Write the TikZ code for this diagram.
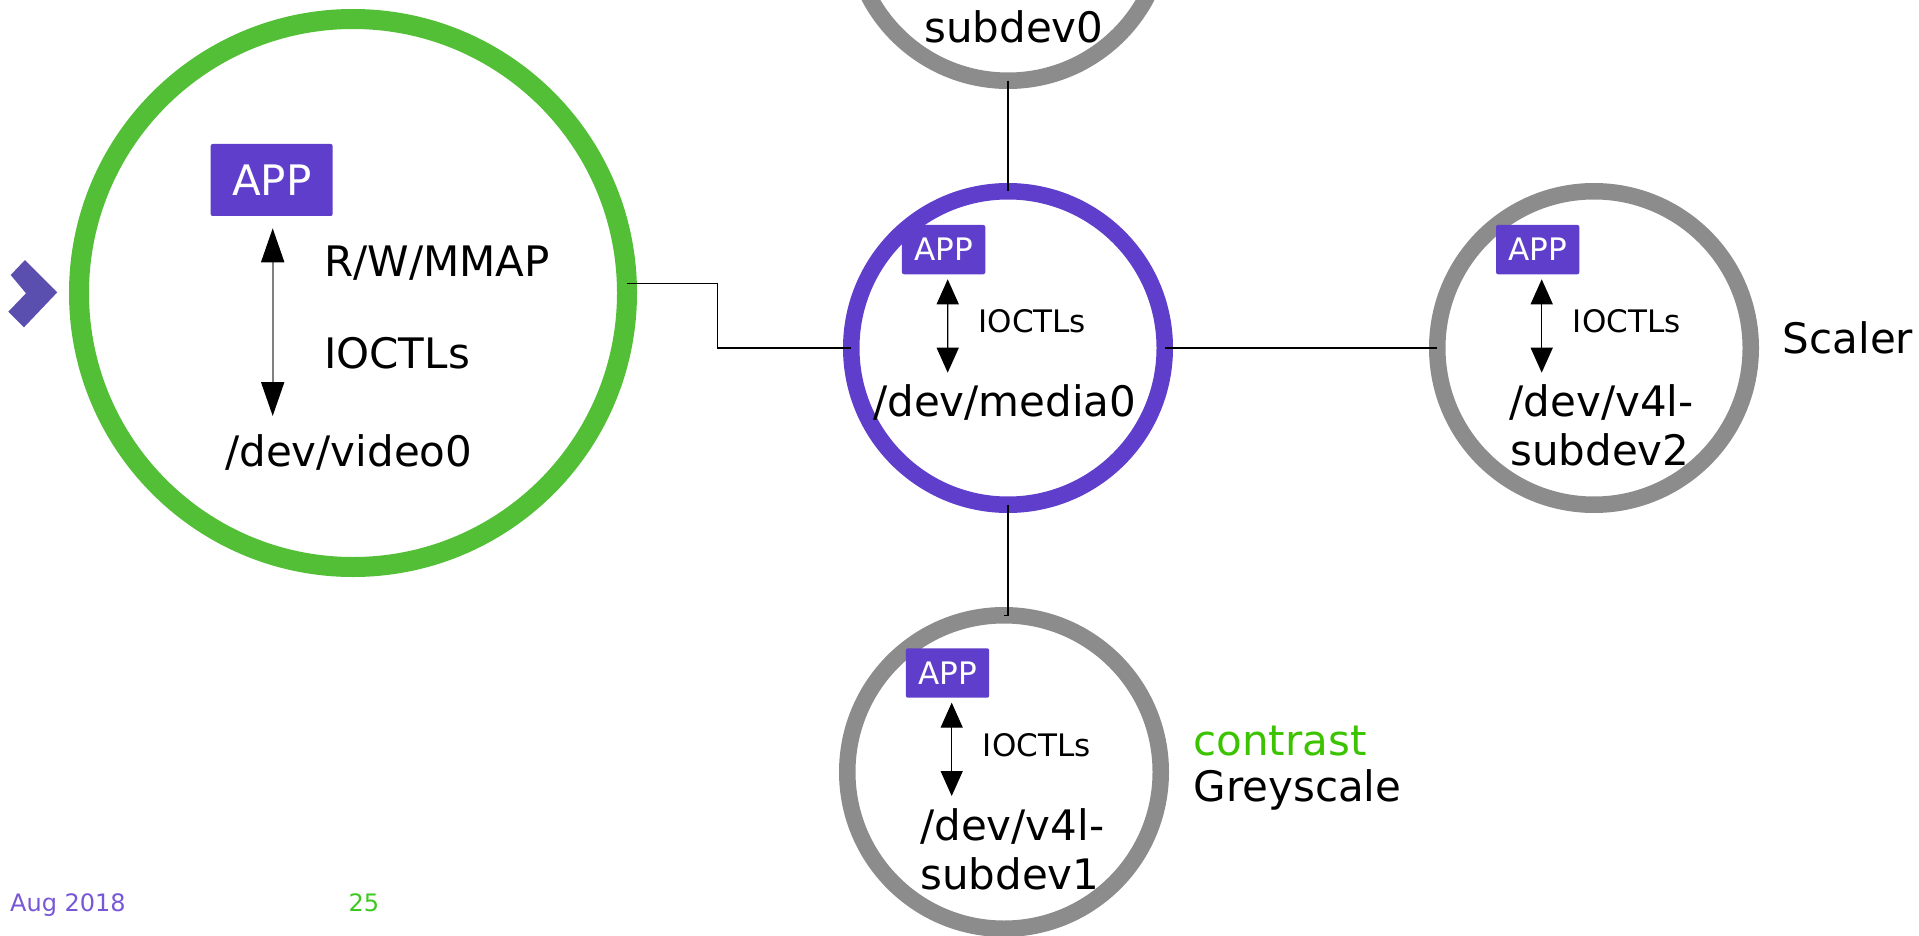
\documentclass[tikz,border=0pt]{standalone}
\usepackage{fontspec}
\setmainfont{DejaVu Sans}
\usetikzlibrary{arrows.meta,calc}
\definecolor{ringgreen}{HTML}{52BF37}
\definecolor{apppurple}{HTML}{5E3ECB}
\definecolor{ringgrey}{HTML}{8C8C8C}
\definecolor{chevcol}{HTML}{5A4FAE}
\definecolor{txtgreen}{HTML}{3CC300}
\definecolor{pagegreen}{HTML}{3DC81F}
\definecolor{datepurple}{HTML}{7857D7}
\definecolor{arrowgrey}{HTML}{808080}
\begin{document}
\begin{tikzpicture}[x=1pt,y=-1pt,
  ring/.style={circle, inner sep=0pt, outer sep=0pt, minimum size=313.5pt, line width=16.5pt},
  appbig/.style={rectangle, fill=apppurple, text=white, rounded corners=2pt, minimum width=122pt, minimum height=72pt, inner sep=0pt, outer sep=0pt, font=\fontsize{42}{48}\selectfont},
  appsmall/.style={rectangle, fill=apppurple, text=white, rounded corners=2pt, minimum width=83.3pt, minimum height=49.3pt, inner sep=0pt, outer sep=0pt, font=\fontsize{31}{36}\selectfont},
  lbl/.style={anchor=base west, inner sep=0pt, font=\fontsize{42}{48}\selectfont},
  lbls/.style={anchor=base west, inner sep=0pt, font=\fontsize{31}{36}\selectfont},
  foot/.style={anchor=base west, inner sep=0pt, font=\fontsize{24}{28}\selectfont},
  conn/.style={draw=black, line width=1.2pt},
  bigarrow/.style={draw=arrowgrey, line width=2pt, >={Triangle[width=23pt,length=34pt,color=black]}, <->},
  smallarrow/.style={draw=black, line width=1.3pt, >={Triangle[width=22pt,length=25pt]}, <->}
]
\useasboundingbox (0,0) rectangle (1919,936);
\clip (0,0) rectangle (1919,936);

% chevron
\fill[chevcol] (25,260) -- (57.3,292.3) -- (24,327.3) -- (8.3,311.7) -- (26,293.3) -- (10.7,275) -- cycle;

% rings
\node[ring, draw=ringgreen, line width=20pt, minimum size=548pt] (video) at (353,293) {};
\node[ring, draw=apppurple] (media) at (1008,348) {};
\node[ring, draw=ringgrey] (sub0) at (1008,-76) {};
\node[ring, draw=ringgrey] (sub2) at (1594,348) {};
\node[ring, draw=ringgrey] (sub1) at (1004,772) {};

% connectors
\draw[conn] (video.2.3) -- ++(90.7,0) |- (media.west);
\draw[conn] (media.east) -- (sub2.west);
\draw[conn] (sub0.south) -- (media.north);
\draw[conn] (media.south) -- (media.south |- sub1.north) -- (sub1.north);

% APP boxes
\node[appbig] (app0) at (271.7,180) {APP};
\node[appsmall] (appm) at (943.6,249.6) {APP};
\node[appsmall] (apps2) at (1537.7,249.6) {APP};
\node[appsmall] (apps1) at (947.5,673) {APP};

% arrows
\coordinate (e0) at (272.7,416);
\draw[bigarrow] ([xshift=1pt,yshift=-12.3pt]app0.south) -- (e0);
\coordinate (em) at (947.7,372.7);
\draw[smallarrow] ([xshift=4.1pt,yshift=-5pt]appm.south) -- (em);
\coordinate (es2) at (1541.7,372.7);
\draw[smallarrow] ([xshift=4pt,yshift=-5pt]apps2.south) -- (es2);
\coordinate (es1) at (951.7,796);
\draw[smallarrow] ([xshift=4.2pt,yshift=-5pt]apps1.south) -- (es1);

% labels
\node[lbl] (rw) at (324,276.7) {R/W/MMAP};
\node[lbl] (io0) at (324,368.3) {IOCTLs};
\node[lbl] (dv0) at (225,466.7) {/dev/video0};

\node[lbls] (iom) at (978.3,332.7) {IOCTLs};
\node[lbl] (dvm) at (873,416.7) {/dev/media0};

\node[lbls] (io2) at (1572.7,332.7) {IOCTLs};
\node[lbl] (dv2a) at (1509.3,416.7) {/dev/v4l-};
\node[lbl] (dv2b) at (1510,465) {subdev2};
\node[lbl] (scaler) at (1782.7,353.3) {Scaler};

\node[lbls] (io1) at (982.7,756.7) {IOCTLs};
\node[lbl] (dv1a) at (920,840) {/dev/v4l-};
\node[lbl] (dv1b) at (920,889.3) {subdev1};
\node[lbl, text=txtgreen] (contrast) at (1193.3,755) {contrast};
\node[lbl] (grey) at (1193.3,801) {Greyscale};

\node[lbl] (dv0b) at (924,42.7) {subdev0};

\node[foot, text=datepurple] (date) at (10,911) {Aug 2018};
\node[foot, text=pagegreen] (page) at (348.3,911) {25};
\end{tikzpicture}
\end{document}
